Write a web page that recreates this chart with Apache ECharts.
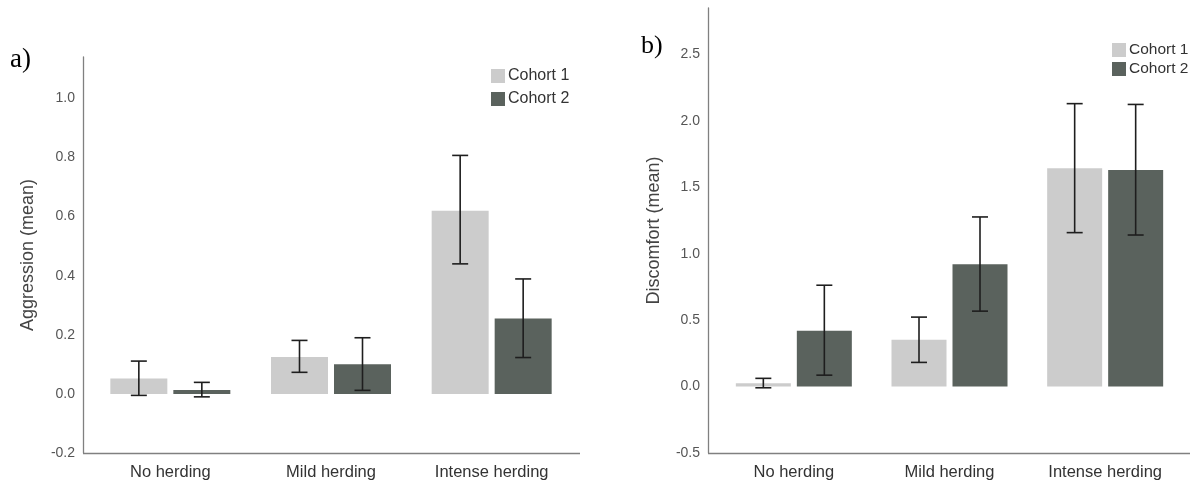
<!DOCTYPE html>
<html>
<head>
<meta charset="utf-8">
<script src="https://cdn.jsdelivr.net/npm/echarts@6/dist/echarts.min.js"></script>
<style>html,body{margin:0;padding:0;background:#fff}#c{width:1196px;height:486px}</style>
</head>
<body>
<div id="c"></div>
<script>
var categories = ['No herding', 'Mild herding', 'Intense herding'];
var seriesNames = ['Cohort 1', 'Cohort 2'];

// Panel a) Aggression (mean)
var aggrC1 = [0.052, 0.125, 0.620];
var aggrC2 = [0.013, 0.100, 0.255];
var aggrC1Low = [-0.005, 0.073, 0.440];
var aggrC1High = [0.111, 0.181, 0.807];
var aggrC2Low = [-0.010, 0.012, 0.123];
var aggrC2High = [0.039, 0.190, 0.389];

// Panel b) Discomfort (mean)
var discC1 = [0.026, 0.352, 1.643];
var discC2 = [0.420, 0.921, 1.630];
var discC1Low = [-0.009, 0.182, 1.159];
var discC1High = [0.062, 0.523, 2.130];
var discC2Low = [0.086, 0.568, 1.141];
var discC2High = [0.763, 1.277, 2.124];

var FONT = '"Liberation Sans", Arial, sans-serif';
var C1 = '#cccccc', C2 = '#5a625d';
var AXIS = '#808080';

function errData(lo, hi) {
  return lo.map(function (v, i) { return [i, v, hi[i]]; });
}
function errRender(sign, barW, gap) {
  return function (params, api) {
    var i = api.value(0);
    var a = api.coord([i, api.value(1)]);
    var b = api.coord([i, api.value(2)]);
    var x = a[0] + sign * (barW + gap) / 2;
    var cap = 8;
    var st = { stroke: '#1e1e1e', lineWidth: 1.6 };
    return {
      type: 'group',
      children: [
        { type: 'line', shape: { x1: x, y1: a[1], x2: x, y2: b[1] }, style: st },
        { type: 'line', shape: { x1: x - cap, y1: a[1], x2: x + cap, y2: a[1] }, style: st },
        { type: 'line', shape: { x1: x - cap, y1: b[1], x2: x + cap, y2: b[1] }, style: st }
      ]
    };
  };
}

function yAxisCfg(idx, name, min, max, interval, nameGap, offset) {
  return {
    type: 'value', gridIndex: idx, min: min, max: max, interval: interval, offset: offset,
    name: name, nameLocation: 'middle', nameGap: nameGap,
    nameTextStyle: { fontFamily: FONT, fontSize: 18, color: '#444' },
    axisLine: { show: true, lineStyle: { color: AXIS, width: 1.3 } },
    axisTick: { show: false },
    splitLine: { show: false },
    axisLabel: {
      fontFamily: FONT, fontSize: 14, color: '#555', margin: 8, showMaxLabel: false,
      formatter: function (v) { return v.toFixed(1); }
    }
  };
}
function xAxisCfg(idx) {
  return {
    type: 'category', gridIndex: idx, data: categories,
    axisLine: { show: false }, axisTick: { show: false },
    axisLabel: { fontFamily: FONT, fontSize: 16.5, color: '#333', margin: 11 }
  };
}

var LW = 57, LG = 6, RW = 55, RG = 6;

var option = {
  backgroundColor: '#fff',
  animation: false,
  title: [
    { text: 'a)', left: 5, top: 41, textStyle: { fontFamily: '"Liberation Serif", serif', fontSize: 27, fontWeight: 'normal', color: '#000' } },
    { text: 'b)', left: 636, top: 28, textStyle: { fontFamily: '"Liberation Serif", serif', fontSize: 26, fontWeight: 'normal', color: '#000' } }
  ],
  legend: [
    { orient: 'vertical', left: 486, top: 63, itemWidth: 14, itemHeight: 14, itemGap: 7, icon: 'rect',
      data: seriesNames, textStyle: { fontFamily: FONT, fontSize: 16, color: '#333', padding: [0, 0, 0, -2] } },
    { orient: 'vertical', left: 1107, top: 37, itemWidth: 14, itemHeight: 14, itemGap: 3, icon: 'rect',
      data: seriesNames, textStyle: { fontFamily: FONT, fontSize: 15.5, color: '#333', padding: [0, 0, 0, -2] } }
  ],
  grid: [
    { left: 90, right: 624, top: 57, bottom: 33 },
    { left: 716, right: 13, top: 8, bottom: 33 }
  ],
  xAxis: [xAxisCfg(0), xAxisCfg(1)],
  yAxis: [
    yAxisCfg(0, 'Aggression (mean)', -0.2, 1.14, 0.2, 46, 7),
    yAxisCfg(1, 'Discomfort (mean)', -0.5, 2.85, 0.5, 45, 8)
  ],
  graphic: [
    { type: 'line', shape: { x1: 83, y1: 453.5, x2: 580, y2: 453.5 }, style: { stroke: AXIS, lineWidth: 1.3 } },
    { type: 'line', shape: { x1: 708, y1: 453.5, x2: 1190, y2: 453.5 }, style: { stroke: AXIS, lineWidth: 1.3 } }
  ],
  series: [
    { name: 'Cohort 1', type: 'bar', xAxisIndex: 0, yAxisIndex: 0, data: aggrC1, barWidth: LW, barGap: (LG / LW * 100) + '%', itemStyle: { color: C1 } },
    { name: 'Cohort 2', type: 'bar', xAxisIndex: 0, yAxisIndex: 0, data: aggrC2, barWidth: LW, barGap: (LG / LW * 100) + '%', itemStyle: { color: C2 } },
    { name: 'Cohort 1', type: 'bar', xAxisIndex: 1, yAxisIndex: 1, data: discC1, barWidth: RW, barGap: (RG / RW * 100) + '%', itemStyle: { color: C1 } },
    { name: 'Cohort 2', type: 'bar', xAxisIndex: 1, yAxisIndex: 1, data: discC2, barWidth: RW, barGap: (RG / RW * 100) + '%', itemStyle: { color: C2 } },
    { type: 'custom', xAxisIndex: 0, yAxisIndex: 0, data: errData(aggrC1Low, aggrC1High), renderItem: errRender(-1, LW, LG), encode: { x: 0, y: [1, 2] }, z: 5 },
    { type: 'custom', xAxisIndex: 0, yAxisIndex: 0, data: errData(aggrC2Low, aggrC2High), renderItem: errRender(1, LW, LG), encode: { x: 0, y: [1, 2] }, z: 5 },
    { type: 'custom', xAxisIndex: 1, yAxisIndex: 1, data: errData(discC1Low, discC1High), renderItem: errRender(-1, RW, RG), encode: { x: 0, y: [1, 2] }, z: 5 },
    { type: 'custom', xAxisIndex: 1, yAxisIndex: 1, data: errData(discC2Low, discC2High), renderItem: errRender(1, RW, RG), encode: { x: 0, y: [1, 2] }, z: 5 }
  ]
};
var chart = echarts.init(document.getElementById('c'), null, { renderer: 'canvas' });
chart.setOption(option);
</script>
</body>
</html>
